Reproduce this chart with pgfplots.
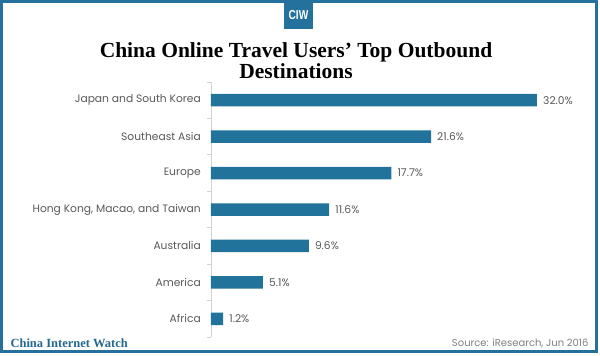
\documentclass[border=0pt]{standalone}
\usepackage{fontspec}
\usepackage{pgfplots}
\pgfplotsset{compat=1.18}
\setmainfont{Poppins}
\newfontfamily\titlefont{Liberation Serif}
\newfontfamily\ciwfont{Liberation Sans}[FakeStretch=0.78]
\definecolor{barblue}{RGB}{33,115,155}
\definecolor{frameblue}{RGB}{36,113,158}
\definecolor{footblue}{RGB}{35,104,143}
\definecolor{lblgrey}{RGB}{89,89,89}
\definecolor{srcgrey}{RGB}{128,128,128}
\definecolor{axgrey}{RGB}{210,210,210}
\begin{document}
\begin{tikzpicture}[x=1pt,y=1pt]
\useasboundingbox (0,0) rectangle (600,356);
\fill[white] (0,0) rectangle (600,356);
\draw[frameblue, line width=3pt] (1.8,4.2) rectangle (596.5,354.2);
% CIW badge
\fill[frameblue] (284,327) rectangle (313,354);
\node[text=white, font=\ciwfont\bfseries\fontsize{13}{13}\selectfont] at (298.5,340.5) {CIW};
% title
\node[font=\titlefont\bfseries\fontsize{21.5}{21.5}\selectfont, align=center, anchor=base] at (296,277)
  {China Online Travel Users’ Top Outbound\\Destinations};
\begin{axis}[
  at={(211pt,19pt)}, anchor=south west,
  scale only axis, width=326pt, height=255pt,
  xbar, bar width=12.5pt,
  xmin=0, xmax=32,
  ymin=-0.5, ymax=6.5, y dir=reverse,
  hide x axis,
  axis y line*=left,
  y axis line style={axgrey, line width=0.8pt, -},
  ytick={0,...,6},
  yticklabels={Japan and South Korea,Southeast Asia,Europe,{Hong Kong, Macao, and Taiwan},Australia,America,Africa},
  major tick length=0pt,
  minor ytick={-0.5,0.5,...,6.5},
  minor tick length=4pt,
  tick align=outside,
  minor tick style={axgrey, line width=0.8pt},
  yticklabel style={font=\fontsize{10.7}{12}\selectfont, text=lblgrey, inner sep=0pt, xshift=-10pt},
  clip=false,
  nodes near coords={\pgfmathprintnumber[fixed,fixed zerofill,precision=1,assume math mode=true]{\pgfplotspointmeta}\%},
  nodes near coords style={font=\fontsize{10.7}{12}\selectfont, text=lblgrey, anchor=west, inner sep=0pt, xshift=6pt},
]
\addplot[fill=barblue, draw=none] coordinates {
  (32.0,0) (21.6,1) (17.7,2) (11.6,3) (9.6,4) (5.1,5) (1.2,6)
};
\end{axis}
% footer
\node[font=\titlefont\bfseries\fontsize{12.5}{14}\selectfont, text=footblue, anchor=base west] at (7,8.5) {China Internet Watch};
\node[font=\fontsize{10}{12}\selectfont, text=srcgrey, anchor=base east] at (592,9) {Source: iResearch, Jun 2016};
\end{tikzpicture}
\end{document}
